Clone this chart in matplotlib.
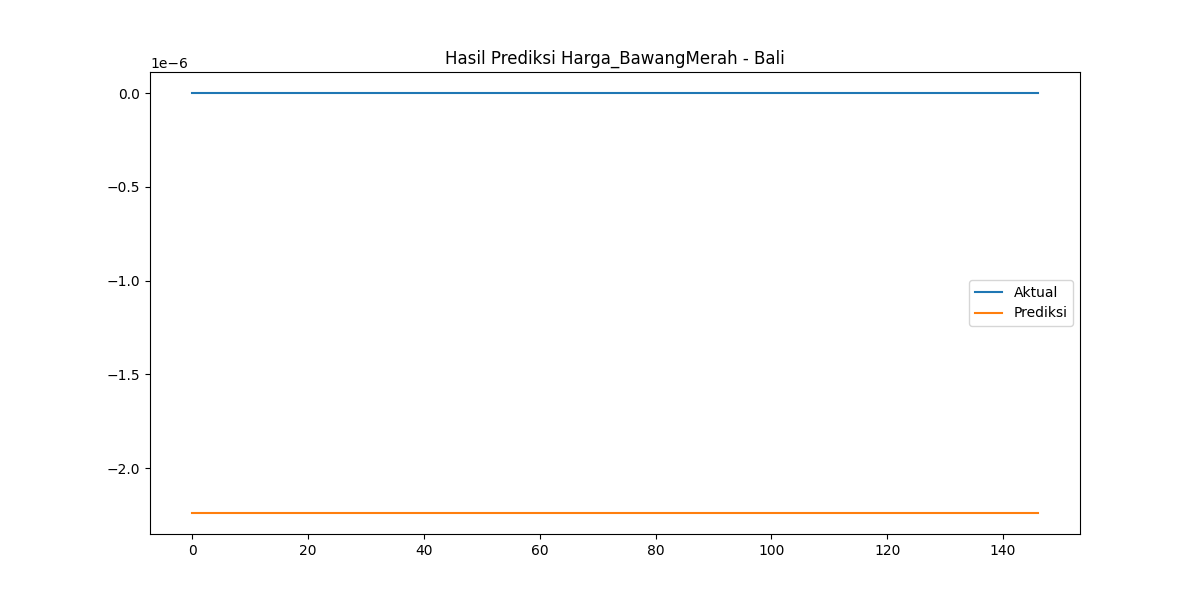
import numpy as np
import matplotlib
matplotlib.use("Agg")
import matplotlib.pyplot as plt

# flat series (147 points, index 0..146)
aktual = [0.0] * 147
prediksi = [-2.24e-6] * 147
title = "Hasil Prediksi Harga_BawangMerah - Bali"

plt.figure(figsize=(12, 6))
plt.plot(aktual, label="Aktual")
plt.plot(prediksi, label="Prediksi")
plt.title(title)
plt.legend()
plt.savefig("out.png", dpi=100)
